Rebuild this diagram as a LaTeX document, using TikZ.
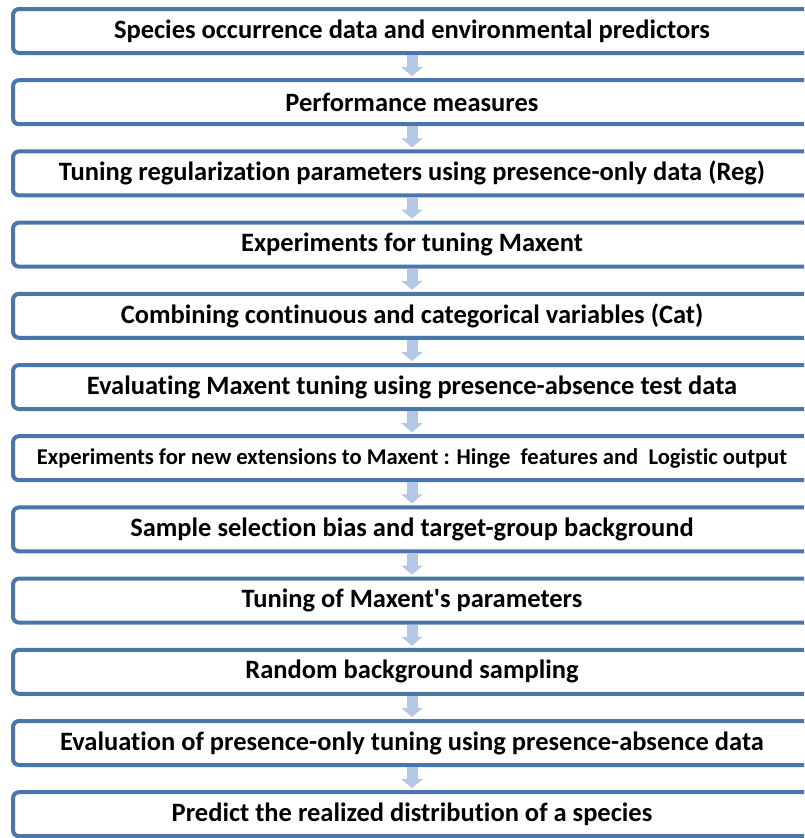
\documentclass[tikz,border=0pt]{standalone}
\usepackage{fontspec}
\setmainfont{Carlito}[RawFeature=-liga]
\usetikzlibrary{positioning,arrows.meta}
\definecolor{boxblue}{RGB}{74,118,170}
\definecolor{arrowblue}{RGB}{180,199,231}

\begin{document}
\begin{tikzpicture}
	[
	node distance=23.2pt,
	stepbox/.style={rectangle,draw=boxblue,line width=4pt,rounded corners=6pt,fill=white,
		minimum width=798pt,minimum height=44pt,font=\fontsize{26.5}{30}\selectfont\bfseries},
	smallbox/.style={stepbox,font=\fontsize{22.6}{26}\selectfont\bfseries},
	flow/.style={arrowblue,line width=11pt,shorten >=2pt,-{Triangle[width=21pt,length=9pt]}},
	]
	\clip (0,0) rectangle (804pt,-838pt);
	\node [stepbox] (data) at (412pt,-31pt) {Species occurrence data and environmental predictors};
	\node [stepbox,below=of data] (perf) {Performance measures};
	\node [stepbox,below=of perf] (reg) {Tuning regularization parameters using presence-only data (Reg)};
	\node [stepbox,below=of reg] (tuning) {Experiments for tuning Maxent};
	\node [stepbox,below=of tuning] (cat) {Combining continuous and categorical variables (Cat)};
	\node [stepbox,below=of cat] (evaltest) {Evaluating Maxent tuning using presence-absence test data};
	\node [smallbox,below=of evaltest] (hinge) {Experiments for new extensions to Maxent : Hinge\ \ features and\ \ Logistic output};
	\node [stepbox,below=of hinge] (bias) {Sample selection bias and target-group background};
	\node [stepbox,below=of bias] (params) {Tuning of Maxent\textquotesingle s parameters};
	\node [stepbox,below=of params] (random) {Random background sampling};
	\node [stepbox,below=of random] (evalpo) {Evaluation of presence-only tuning using presence-absence data};
	\node [stepbox,below=of evalpo] (predict) {Predict the realized distribution of a species};
	% arrows between the steps
	\draw [flow] (data) -- (perf);
	\draw [flow] (perf) -- (reg);
	\draw [flow] (reg) -- (tuning);
	\draw [flow] (tuning) -- (cat);
	\draw [flow] (cat) -- (evaltest);
	\draw [flow] (evaltest) -- (hinge);
	\draw [flow] (hinge) -- (bias);
	\draw [flow] (bias) -- (params);
	\draw [flow] (params) -- (random);
	\draw [flow] (random) -- (evalpo);
	\draw [flow] (evalpo) -- (predict);
\end{tikzpicture}
\end{document}
